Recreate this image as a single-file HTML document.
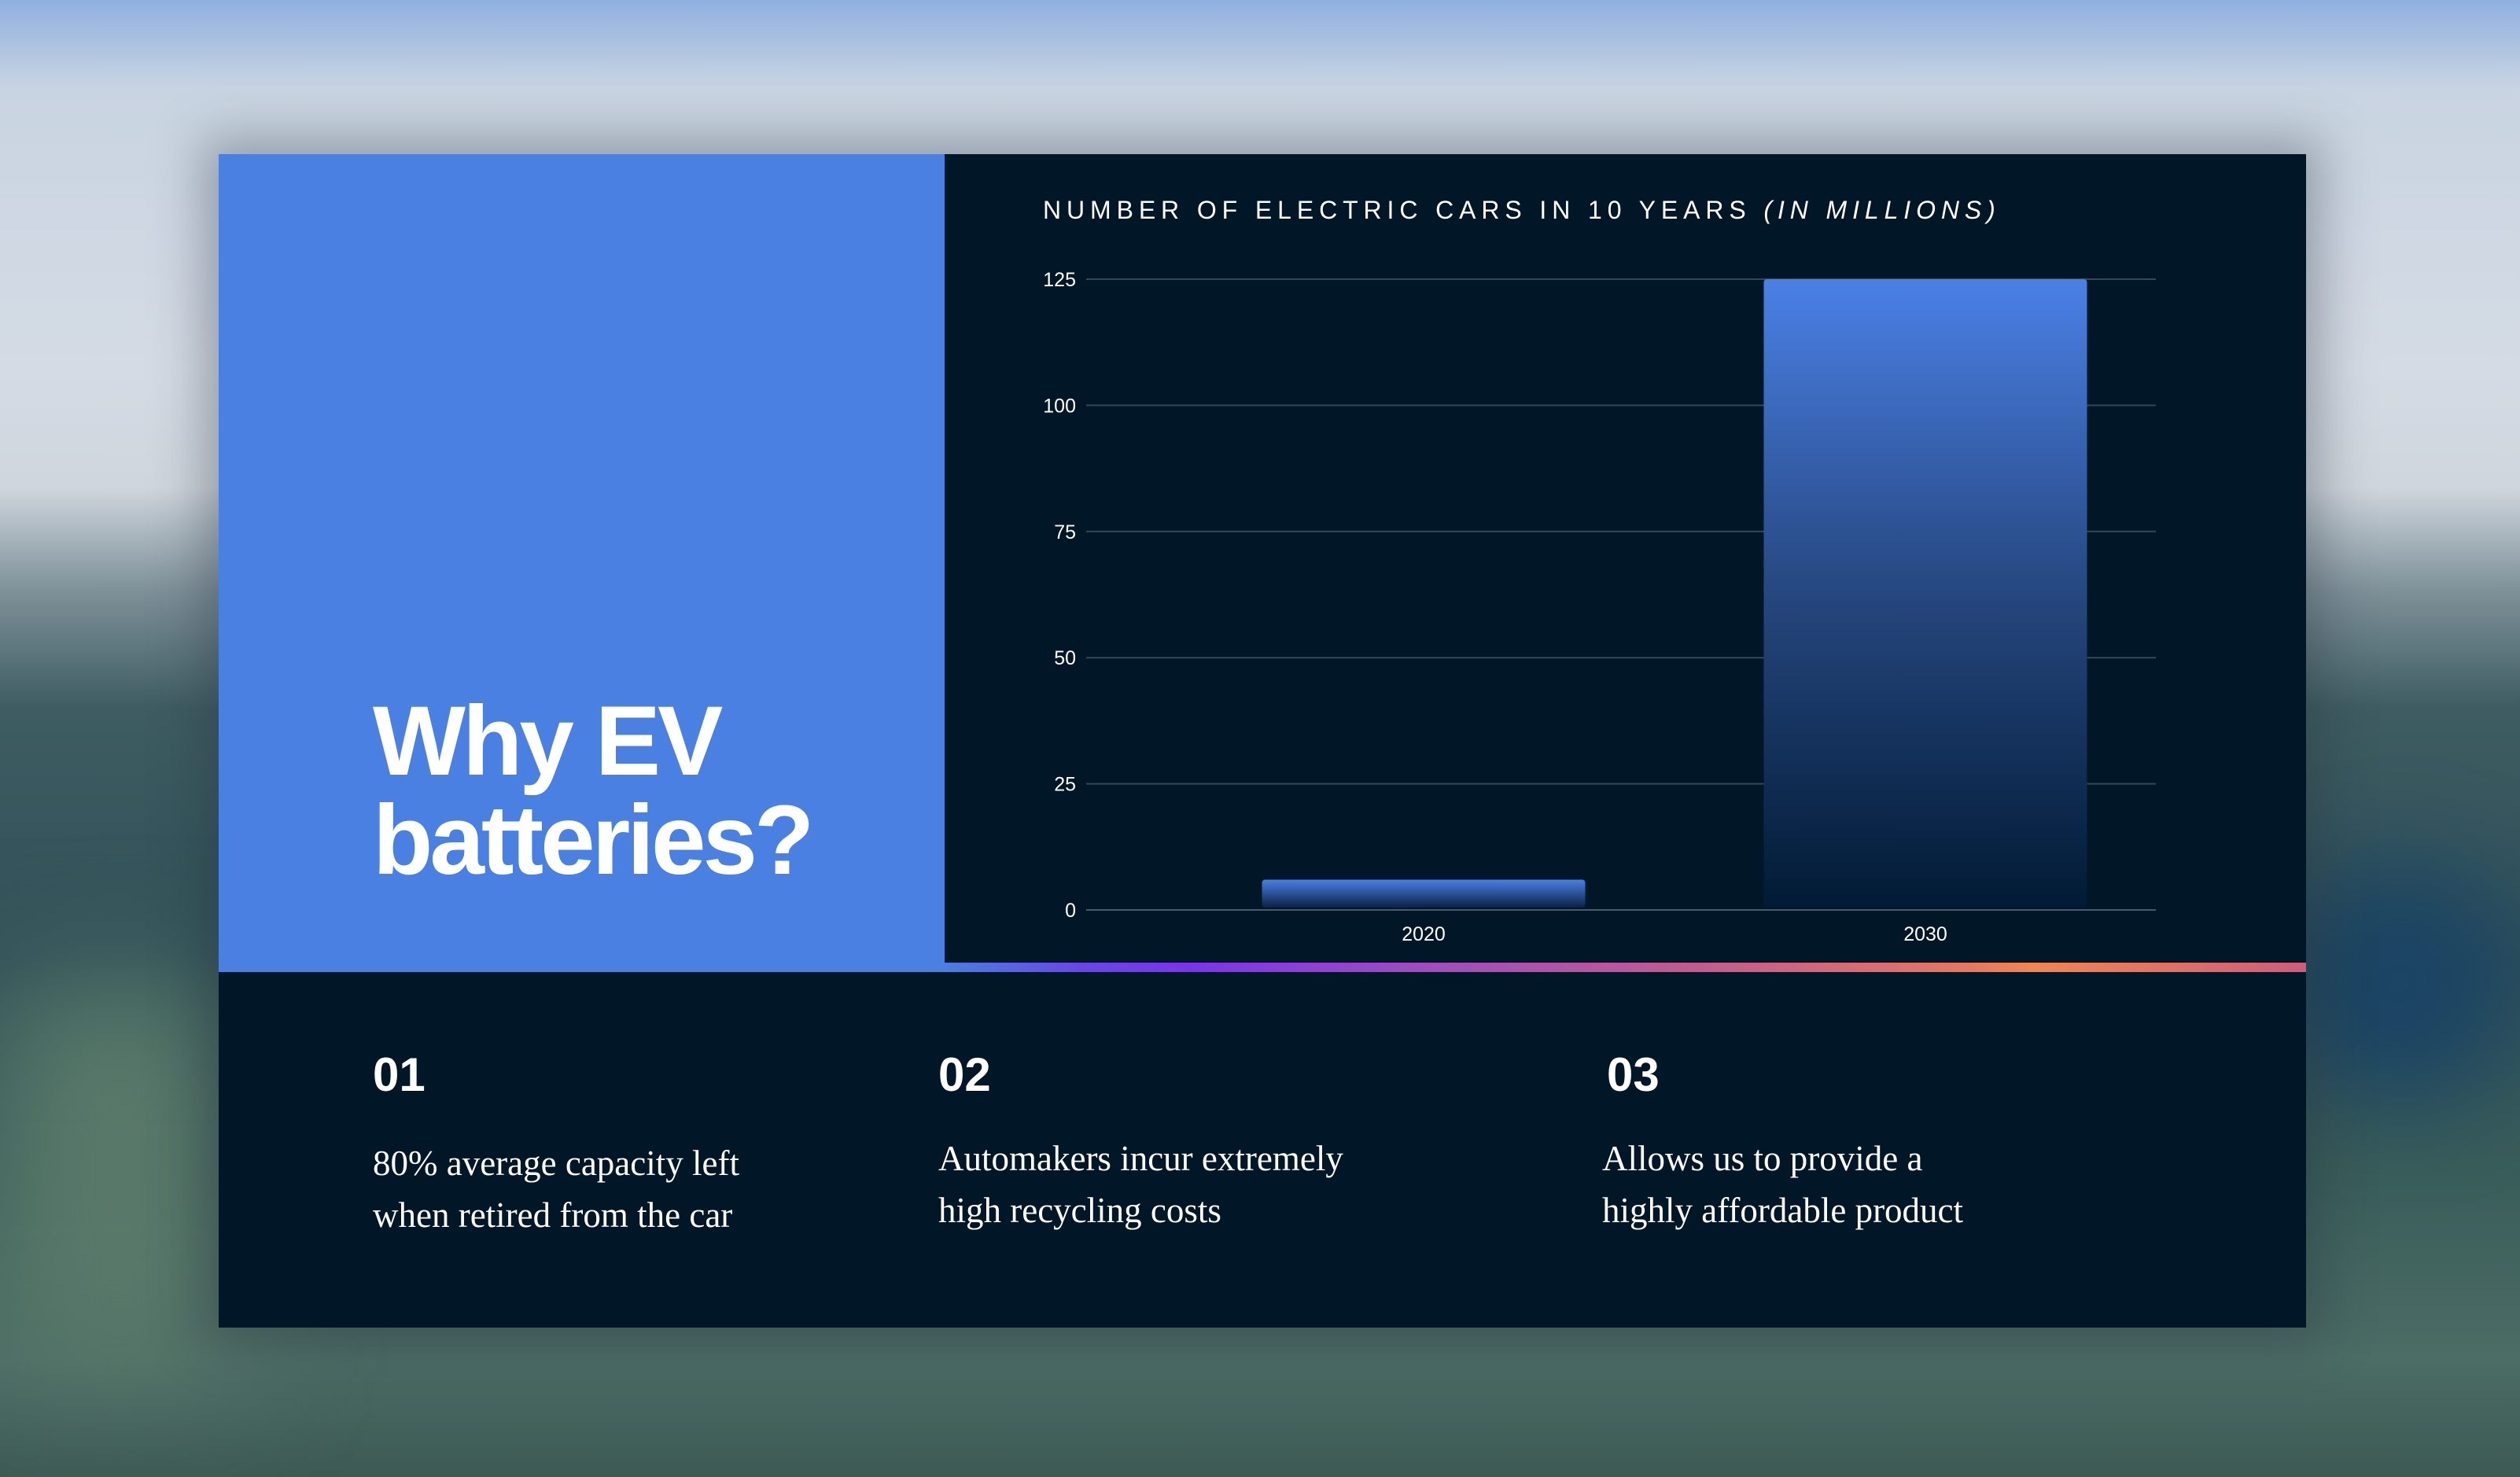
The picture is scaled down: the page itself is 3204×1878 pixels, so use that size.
<!DOCTYPE html>
<html><head><meta charset="utf-8">
<style>
html,body{margin:0;padding:0;}
body{width:3204px;height:1878px;position:relative;overflow:hidden;font-family:"Liberation Sans",sans-serif;
background:linear-gradient(180deg,#8fb0e0 0%,#c9d4e2 6%,#d4dbe4 25%,#cfd6de 33%,#7e9098 40%,#3e5c62 48%,#2f5058 65%,#3a5e5a 80%,#4c6c66 92%,#3d5a55 100%);}
#bgblob1{position:absolute;left:2900px;top:1100px;width:300px;height:300px;background:#1b4464;filter:blur(60px);border-radius:50%;}
#bgblob2{position:absolute;left:0;top:1250px;width:300px;height:500px;background:#5a7a6a;filter:blur(80px);}
#card{position:absolute;left:278px;top:196px;width:2654px;height:1492px;background:#011727;box-shadow:0 0 60px 20px rgba(40,50,60,0.35);}
#blue{position:absolute;left:0;top:0;width:923px;height:1040px;background:#4a80e2;}
#strip{position:absolute;left:923px;top:1028px;width:1731px;height:12px;background:linear-gradient(90deg,#4a7fe0 0%,#6a45ea 10%,#7c33ec 18%,#a04cc0 35%,#c45a8e 55%,#e87660 75%,#f48450 80%,#cf5c7a 100%);}
#heading{position:absolute;left:196px;top:684px;color:#fff;font-weight:bold;font-size:125px;line-height:126px;margin:0;letter-spacing:-4px;}
.num{position:absolute;top:1136px;color:#fff;font-weight:bold;font-size:60px;margin:0;}
.txt{position:absolute;color:#fff;font-family:"Liberation Serif",serif;font-size:45px;line-height:66px;margin:0;}
svg text{font-family:"Liberation Sans",sans-serif;}
</style></head><body>
<div id="bgblob1"></div>
<div id="bgblob2"></div>
<div id="card">
  <div id="blue">
    <h1 id="heading">Why EV<br>batteries?</h1>
  </div>
  <div id="strip"></div>
  <div class="num" style="left:196px">01</div>
  <div class="num" style="left:915px">02</div>
  <div class="num" style="left:1765px">03</div>
  <p class="txt" style="left:196px;top:1250px">80% average capacity left<br>when retired from the car</p>
  <p class="txt" style="left:915px;top:1244px">Automakers incur extremely<br>high recycling costs</p>
  <p class="txt" style="left:1759px;top:1244px">Allows us to provide a<br>highly affordable product</p>
</div>
<svg id="chart" width="3204" height="1878" style="position:absolute;left:0;top:0">
  <defs>
    <linearGradient id="g2030" x1="0" y1="0" x2="0" y2="1">
      <stop offset="0" stop-color="#4a80e6"/>
      <stop offset="0.5" stop-color="#26477f"/>
      <stop offset="1" stop-color="#011a34"/>
    </linearGradient>
    <linearGradient id="g2020" x1="0" y1="0" x2="0" y2="1">
      <stop offset="0" stop-color="#4a80e6"/>
      <stop offset="1" stop-color="#0a2244"/>
    </linearGradient>
  </defs>
  <text x="1326" y="278" fill="#fff" font-size="32" letter-spacing="6.9">NUMBER OF ELECTRIC CARS IN 10 YEARS <tspan font-style="italic">(IN MILLIONS)</tspan></text>
  <g id="grid"></g><g id="bars"></g><g id="labels"></g>
</svg>
<script>
const categories=["2020","2030"];
const values=[6,125];
const yTicks=[0,25,50,75,100,125];
const ns="http://www.w3.org/2000/svg";
const x0=1381,x1=2741,yBase=1157,yTop=355,yMax=125;
const bx0=1491,bx1=2767;
function y(v){return yBase-(v/yMax)*(yBase-yTop);}
const band=(bx1-bx0)/categories.length;
function xc(i){return bx0+band*(i+0.5);}
const barW=411;
const grid=document.getElementById('grid'),bars=document.getElementById('bars'),labels=document.getElementById('labels');
yTicks.forEach(t=>{
  const l=document.createElementNS(ns,'line');
  l.setAttribute('x1',x0);l.setAttribute('x2',x1);l.setAttribute('y1',y(t));l.setAttribute('y2',y(t));
  l.setAttribute('stroke',t===0?'#4a5a6a':'#34485a');l.setAttribute('stroke-width','2');
  
  
  grid.appendChild(l);
  const tx=document.createElementNS(ns,'text');
  tx.setAttribute('x',1368);tx.setAttribute('y',y(t)+9);tx.setAttribute('text-anchor','end');
  tx.setAttribute('fill','#fff');tx.setAttribute('font-size','25');tx.textContent=t;
  
  
  labels.appendChild(tx);
});
categories.forEach((c,i)=>{
  const r=document.createElementNS(ns,'rect');
  r.setAttribute('x',xc(i)-barW/2);r.setAttribute('y',y(values[i]));
  r.setAttribute('width',barW);r.setAttribute('height',yBase-3-y(values[i]));
  r.setAttribute('rx','4');
  r.setAttribute('fill',values[i]<20?'url(#g2020)':'url(#g2030)');
  
  
  bars.appendChild(r);
  const tx=document.createElementNS(ns,'text');
  tx.setAttribute('x',xc(i));tx.setAttribute('y',1196);tx.setAttribute('text-anchor','middle');
  tx.setAttribute('fill','#fff');tx.setAttribute('font-size','25');tx.textContent=c;
  
  
  labels.appendChild(tx);
});
</script>
</body></html>
